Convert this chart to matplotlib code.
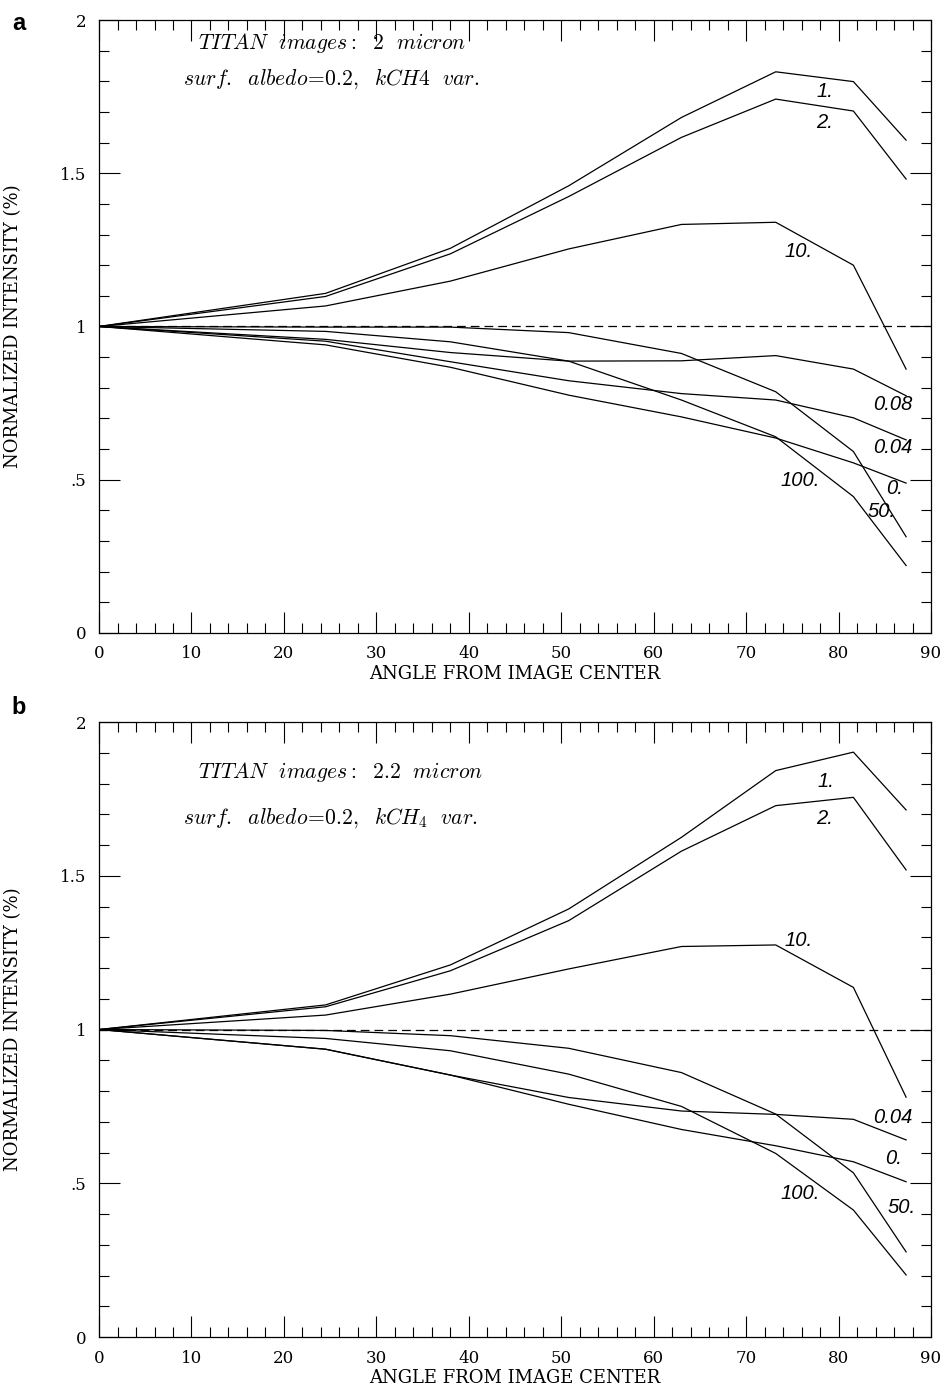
import numpy as np
import matplotlib
matplotlib.use('Agg')
import matplotlib.pyplot as plt
from matplotlib.ticker import MultipleLocator

plt.rcParams['mathtext.fontset'] = 'cm'

# angles (deg) where the model was evaluated
angle = [0, 24.5, 38, 50.8, 63, 73.2, 81.6, 87.3]

# panel a : 2 micron
a_labels = ['1.', '2.', '10.', '0.08', '0.04', '0.', '50.', '100.']
a_k1   = [1, 1.108, 1.255, 1.459, 1.682, 1.831, 1.799, 1.608]
a_k2   = [1, 1.098, 1.237, 1.424, 1.617, 1.742, 1.703, 1.481]
a_k10  = [1, 1.067, 1.148, 1.253, 1.333, 1.340, 1.200, 0.861]
a_k008 = [1, 0.958, 0.915, 0.887, 0.888, 0.905, 0.861, 0.774]
a_k004 = [1, 0.952, 0.885, 0.823, 0.781, 0.760, 0.702, 0.630]
a_k0   = [1, 0.940, 0.867, 0.776, 0.705, 0.636, 0.555, 0.489]
a_k50  = [1, 0.998, 0.998, 0.980, 0.912, 0.787, 0.592, 0.314]
a_k100 = [1, 0.984, 0.950, 0.887, 0.760, 0.640, 0.445, 0.220]

# panel b : 2.2 micron
b_labels = ['1.', '2.', '10.', '0.04', '0.', '50.', '100.']
b_k1   = [1, 1.080, 1.210, 1.392, 1.625, 1.842, 1.902, 1.714]
b_k2   = [1, 1.074, 1.191, 1.354, 1.580, 1.728, 1.755, 1.519]
b_k10  = [1, 1.047, 1.115, 1.197, 1.270, 1.275, 1.137, 0.780]
b_k004 = [1, 0.936, 0.852, 0.779, 0.735, 0.724, 0.708, 0.641]
b_k0   = [1, 0.936, 0.852, 0.757, 0.675, 0.622, 0.570, 0.505]
b_k50  = [1, 0.997, 0.980, 0.939, 0.860, 0.725, 0.534, 0.277]
b_k100 = [1, 0.971, 0.931, 0.855, 0.750, 0.597, 0.413, 0.202]

ytick_vals = [0, 0.5, 1, 1.5, 2]
ytick_text = ['0', '.5', '1', '1.5', '2']

# where each curve label sits (data coords)
a_label_pos = [(78.5, 1.768), (78.5, 1.664), (75.7, 1.246), (85.9, 0.744),
               (85.9, 0.604), (86.0, 0.470), (84.7, 0.395), (75.8, 0.499)]
b_label_pos = [(78.6, 1.808), (78.5, 1.685), (75.7, 1.291), (85.9, 0.715),
               (85.9, 0.579), (86.8, 0.420), (75.8, 0.468)]

serif = 'DejaVu Serif'


def draw_panel(ax, curves, labels, label_pos, title1, title2, ty1, ty2):
    ax.axhline(1.0, color='black', lw=0.9, ls=(0, (7, 4)))
    for yv in curves:
        ax.plot(angle, yv, color='black', lw=0.9)
    for lab, (lx, ly) in zip(labels, label_pos):
        ax.text(lx, ly, lab, fontsize=14.5, style='italic', family='Liberation Sans',
                ha='center', va='center')

    ax.text(0.119, ty1, title1, transform=ax.transAxes, fontsize=15.5, va='center')
    ax.text(0.101, ty2, title2, transform=ax.transAxes, fontsize=15.5, va='center')

    ax.set_xlim(0, 90)
    ax.set_ylim(0, 2)
    ax.xaxis.set_major_locator(MultipleLocator(10))
    ax.xaxis.set_minor_locator(MultipleLocator(2))
    ax.yaxis.set_minor_locator(MultipleLocator(0.1))
    ax.set_yticks(ytick_vals)
    ax.set_yticklabels(ytick_text)
    ax.tick_params(which='both', direction='in', top=True, right=True, width=0.8)
    ax.tick_params(which='major', length=15)
    ax.tick_params(which='minor', length=7.5)
    ax.tick_params(axis='x', pad=9)
    ax.tick_params(axis='y', pad=9)
    for t in ax.get_xticklabels() + ax.get_yticklabels():
        t.set_family(serif)
        t.set_fontsize(12)
    for s in ax.spines.values():
        s.set_linewidth(0.9)
    ax.set_xlabel('ANGLE FROM IMAGE CENTER', family=serif, fontsize=13, labelpad=2)
    ax.set_ylabel('NORMALIZED INTENSITY (%)', family=serif, fontsize=13)
    ax.yaxis.set_label_coords(-0.093, 0.5)


fig = plt.figure(figsize=(9.46, 13.89), dpi=100)
ax_a = fig.add_axes([0.1047, 0.5443, 0.8795, 0.4413])
ax_b = fig.add_axes([0.1047, 0.0374, 0.8795, 0.4428])

draw_panel(ax_a, [a_k1, a_k2, a_k10, a_k008, a_k004, a_k0, a_k50, a_k100],
           a_labels, a_label_pos,
           r'$TITAN\ \ images{:}\ \ 2\ \ micron$',
           r'$surf.\ \ albedo\!=\!0.2,\ \ kCH4\ \ var.$', 0.9625, 0.904)
draw_panel(ax_b, [b_k1, b_k2, b_k10, b_k004, b_k0, b_k50, b_k100],
           b_labels, b_label_pos,
           r'$TITAN\ \ images{:}\ \ 2.2\ \ micron$',
           r'$surf.\ \ albedo\!=\!0.2,\ \ kCH_4\ \ var.$', 0.919, 0.844)

fig.text(19 / 946, 1 - 23 / 1389, 'a', fontsize=17, fontweight='bold',
         family='Liberation Sans', ha='center', va='center')
fig.text(19 / 946, 1 - 708 / 1389, 'b', fontsize=17, fontweight='bold',
         family='Liberation Sans', ha='center', va='center')

fig.savefig('out.png', dpi=100)
